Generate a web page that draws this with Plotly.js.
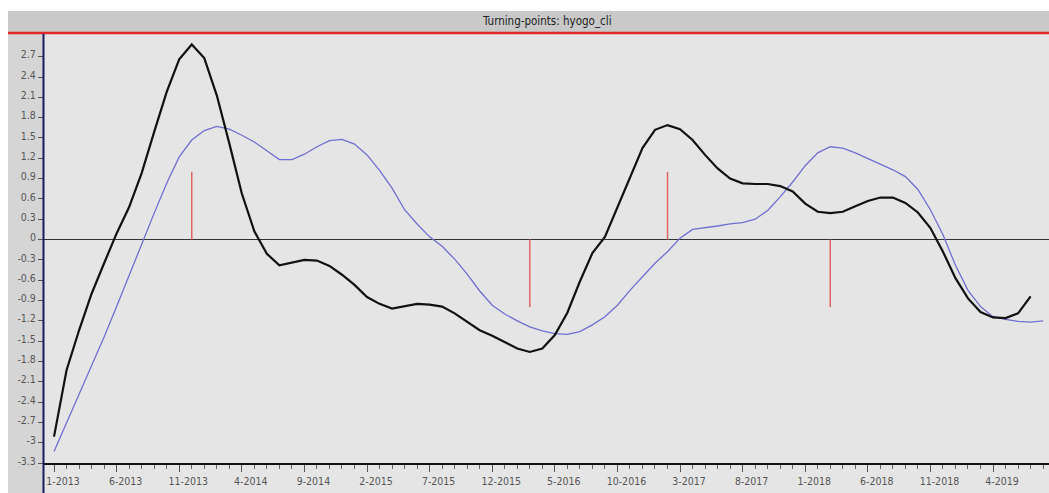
<!DOCTYPE html>
<html>
<head>
<meta charset="utf-8">
<script src="https://cdn.plot.ly/plotly-3.0.1.min.js"></script>
<style>
  html, body { margin: 0; padding: 0; background: #ffffff; }
  #chart { width: 1049px; height: 493px; }
</style>
</head>
<body>
<div id="chart"></div>
<script>
// ---- Data (monthly, starting 1-2013) ----
const startYear = 2013;
const startMonth = 1;

const xTickLabels = ["1-2013","6-2013","11-2013","4-2014","9-2014","2-2015","7-2015","12-2015",
                     "5-2016","10-2016","3-2017","8-2017","1-2018","6-2018","11-2018","4-2019"];

const yTickValues = [-3.3,-3.0,-2.7,-2.4,-2.1,-1.8,-1.5,-1.2,-0.9,-0.6,-0.3,0,0.3,0.6,0.9,1.2,1.5,1.8,2.1,2.4,2.7];
const yTickLabels = ["-3.3","-3","-2.7","-2.4","-2.1","-1.8","-1.5","-1.2","-0.9","-0.6","-0.3","0",
                     "0.3","0.6","0.9","1.2","1.5","1.8","2.1","2.4","2.7"];

// hyogo_cli (black)
const hyogoCli = [
  -2.91,-1.93,-1.34,-0.80,-0.35, 0.09, 0.48, 0.98, 1.59, 2.18,
   2.66, 2.88, 2.68, 2.13, 1.42, 0.68, 0.12,-0.21,-0.38,-0.34,
  -0.30,-0.31,-0.39,-0.52,-0.67,-0.85,-0.95,-1.02,-0.98,-0.95,
  -0.96,-0.99,-1.09,-1.21,-1.34,-1.42,-1.51,-1.61,-1.66,-1.61,
  -1.41,-1.08,-0.62,-0.20, 0.04, 0.48, 0.93, 1.35, 1.62, 1.69,
   1.63, 1.47, 1.25, 1.05, 0.90, 0.83, 0.82, 0.82, 0.79, 0.71,
   0.53, 0.41, 0.39, 0.41, 0.49, 0.57, 0.62, 0.62, 0.54, 0.40,
   0.17,-0.18,-0.57,-0.87,-1.07,-1.15,-1.16,-1.09,-0.84
];

// reference series (blue)
const referenceSeries = [
  -3.13,-2.71,-2.30,-1.88,-1.44,-0.99,-0.52,-0.08, 0.39, 0.83,
   1.22, 1.47, 1.61, 1.67, 1.63, 1.54, 1.44, 1.31, 1.18, 1.18,
   1.26, 1.37, 1.46, 1.48, 1.41, 1.25, 1.02, 0.76, 0.44, 0.23,
   0.04,-0.10,-0.29,-0.51,-0.76,-0.97,-1.10,-1.20,-1.29,-1.35,
  -1.39,-1.40,-1.36,-1.26,-1.14,-0.97,-0.75,-0.55,-0.35,-0.18,
   0.02, 0.15, 0.17, 0.20, 0.23, 0.25, 0.30, 0.43, 0.63, 0.85,
   1.09, 1.28, 1.37, 1.35, 1.28, 1.20, 1.12, 1.03, 0.93, 0.74,
   0.44, 0.07,-0.38,-0.75,-0.99,-1.14,-1.18,-1.21,-1.22,-1.20
];

// turning points (month index from 1-2013) : +1 peak, -1 trough
const turningIdx  = [11, 38, 49, 62];
const turningSign = [ 1, -1,  1, -1];
const turningMark = 1.0;

// ---- Build traces ----
const idxOf = arr => arr.map((_, i) => i);
const tickStep = 5;
const xTickVals = xTickLabels.map((_, k) => k * tickStep);

const tpX = [], tpY = [];
turningIdx.forEach((m, k) => {
  tpX.push(m, m, null);
  tpY.push(0, turningSign[k] * turningMark, null);
});

const traces = [
  {
    type: 'scatter', mode: 'lines', name: 'turning points',
    x: tpX, y: tpY,
    line: { color: '#e06464', width: 1.5 },
    hoverinfo: 'skip', showlegend: false
  },
  {
    type: 'scatter', mode: 'lines', name: 'reference',
    x: idxOf(referenceSeries), y: referenceSeries,
    line: { color: '#6f6fd2', width: 1.3 },
    showlegend: false
  },
  {
    type: 'scatter', mode: 'lines', name: 'hyogo_cli',
    x: idxOf(hyogoCli), y: hyogoCli,
    line: { color: '#111111', width: 2.2 },
    showlegend: false
  }
];

// ---- Layout helpers (pixel -> paper) ----
const W = 1049, H = 493;
const L = 44, R = 0, T = 33, B = 30;
const PW = W - L - R, PH = H - T - B;
const px = x => (x - L) / PW;
const py = y => (H - B - y) / PH;

const fontFam = '"Liberation Sans Narrow", "DejaVu Sans Condensed", "Arial Narrow", "Liberation Sans", sans-serif';

const shapes = [
  // white outer margins
  { type: 'rect', xref: 'paper', yref: 'paper', x0: px(0), x1: px(W), y0: py(11), y1: py(0),
    fillcolor: '#ffffff', line: { width: 0 }, layer: 'below' },
  { type: 'rect', xref: 'paper', yref: 'paper', x0: px(0), x1: px(8), y0: py(H), y1: py(0),
    fillcolor: '#ffffff', line: { width: 0 }, layer: 'below' },
  // title bar
  { type: 'rect', xref: 'paper', yref: 'paper', x0: px(8), x1: px(W), y0: py(32), y1: py(11),
    fillcolor: '#c9c9c9', line: { width: 0 }, layer: 'below' },
  // left axis strip
  { type: 'rect', xref: 'paper', yref: 'paper', x0: px(8), x1: px(43), y0: py(H), y1: py(32),
    fillcolor: '#d5d5d5', line: { width: 0 }, layer: 'below' },
  // red top rule
  { type: 'line', xref: 'paper', yref: 'paper', x0: px(8), x1: px(W), y0: py(33), y1: py(33),
    line: { color: '#e02828', width: 2.5 } },
  // vertical axis line extending to bottom
  { type: 'line', xref: 'paper', yref: 'paper', x0: px(43.5), x1: px(43.5), y0: py(H), y1: py(34),
    line: { color: '#1c1c5c', width: 2 } }
];

const layout = {
  width: W, height: H,
  margin: { l: L, r: R, t: T, b: B, pad: 0 },
  paper_bgcolor: '#e5e5e5',
  plot_bgcolor: '#e5e5e5',
  showlegend: false,
  font: { family: fontFam, size: 10, color: '#555555' },
  xaxis: {
    range: [-0.8, 79.47],
    tickmode: 'array', tickvals: xTickVals, ticktext: xTickLabels,
    ticks: 'outside', ticklen: 7, tickwidth: 1, tickcolor: '#555555',
    minor: { dtick: 1, tick0: 0, ticks: 'outside', ticklen: 4, tickwidth: 1, tickcolor: '#666666', showgrid: false },
    showgrid: false, zeroline: false,
    showline: true, linecolor: '#111111', linewidth: 2,
    ticklabelshift: 9,
    tickfont: { family: fontFam, size: 10.5, color: '#555555' },
    fixedrange: true
  },
  yaxis: {
    range: [-3.3, 3.05],
    tickmode: 'array', tickvals: yTickValues, ticktext: yTickLabels,
    ticks: 'outside', ticklen: 5, tickwidth: 1, tickcolor: '#555555',
    showgrid: false,
    zeroline: true, zerolinecolor: '#333333', zerolinewidth: 1.2,
    showline: false,
    ticklabelshift: -2,
    tickfont: { family: fontFam, size: 10.5, color: '#555555' },
    fixedrange: true
  },
  shapes: shapes,
  annotations: [
    { text: 'Turning-points: hyogo_cli', xref: 'paper', yref: 'paper',
      x: px(547), y: py(21), xanchor: 'center', yanchor: 'middle', showarrow: false,
      font: { family: fontFam, size: 11.5, color: '#222222' } }
  ]
};

Plotly.newPlot('chart', traces, layout, { displayModeBar: false, staticPlot: true });
</script>
</body>
</html>
